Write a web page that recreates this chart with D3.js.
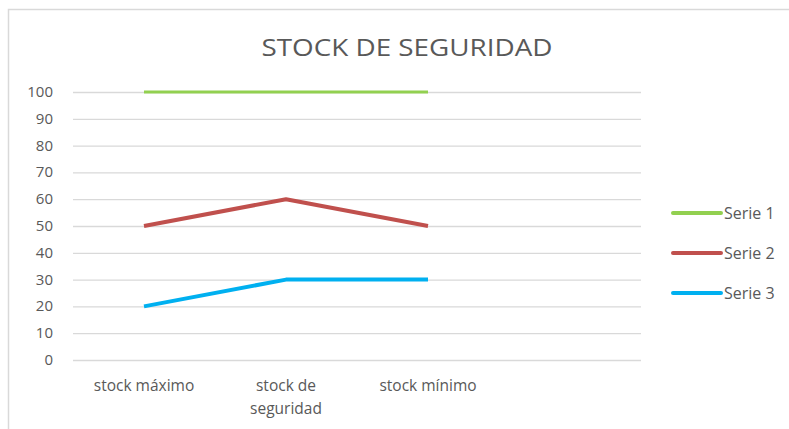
<!DOCTYPE html>
<html>
<head>
<meta charset="utf-8">
<script src="https://cdn.jsdelivr.net/npm/d3@7"></script>
<style>
  body { margin: 0; background: #fff; }
  text { font-family: "Open Sans", "Noto Sans", sans-serif; fill: #595959; }
</style>
</head>
<body>
<div id="chart"></div>
<script>
// categories (4th slot is empty in the original chart)
var categories = ["stock máximo", "stock de\nseguridad", "stock mínimo", ""];
var serie1 = [100, 100, 100];
var serie2 = [50, 60, 50];
var serie3 = [20, 30, 30];
var seriesNames = ["Serie 1", "Serie 2", "Serie 3"];
var seriesColors = ["#92D050", "#C0504D", "#00B0F0"];
var yTicks = [0, 10, 20, 30, 40, 50, 60, 70, 80, 90, 100];

var width = 789, height = 429;
var margin = {top: 92, left: 73, right: 148, bottom: 69};

var svg = d3.select("#chart").append("svg")
    .attr("width", width)
    .attr("height", height);

// chart border
svg.append("rect")
    .attr("x", 8.5).attr("y", 9.5)
    .attr("width", 800).attr("height", 440)
    .attr("fill", "none")
    .attr("stroke", "#d9d9d9")
    .attr("stroke-width", 1.5);

// title
svg.append("text")
    .attr("x", 407).attr("y", 56)
    .attr("text-anchor", "middle")
    .style("font-size", "24px")
    .attr("textLength", 291)
    .attr("lengthAdjust", "spacingAndGlyphs")
    .text("STOCK  DE SEGURIDAD");

var x = d3.scaleBand()
    .domain(d3.range(categories.length))
    .range([margin.left, width - margin.right]);

var y = d3.scaleLinear()
    .domain([0, 100])
    .range([height - margin.bottom, margin.top]);

// gridlines
svg.append("g").selectAll("line").data(yTicks).enter().append("line")
    .attr("x1", margin.left).attr("x2", width - margin.right)
    .attr("y1", function (d) { return y(d) + 0.5; })
    .attr("y2", function (d) { return y(d) + 0.5; })
    .attr("stroke", "#d9d9d9")
    .attr("stroke-width", 1.3);

// y tick labels
svg.append("g").selectAll("text").data(yTicks).enter().append("text")
    .attr("x", 53)
    .attr("y", function (d) { return y(d) + 5; })
    .attr("text-anchor", "end")
    .style("font-size", "15px")
    .text(function (d) { return d; });

// category labels
var catLabels = svg.append("g").selectAll("text").data(categories).enter().append("text")
    .attr("text-anchor", "middle")
    .style("font-size", "15.5px")
    .attr("transform", function (d, i) {
        return "translate(" + (x(i) + x.bandwidth() / 2) + ",391)";
    });
catLabels.each(function (d) {
    var t = d3.select(this);
    d.split("\n").forEach(function (part, k) {
        t.append("tspan").attr("x", 0).attr("dy", k === 0 ? 0 : 23).text(part);
    });
});

// lines
var allSeries = [serie1, serie2, serie3];
var line = d3.line()
    .x(function (d, i) { return x(i) + x.bandwidth() / 2; })
    .y(function (d) { return y(d); });

svg.append("g").selectAll("path").data(allSeries).enter().append("path")
    .attr("d", line)
    .attr("fill", "none")
    .attr("stroke", function (d, i) { return seriesColors[i]; })
    .attr("stroke-width", function (d, i) { return i === 0 ? 3 : 4; })
    .attr("stroke-linejoin", "round");

// legend
var legend = svg.append("g").selectAll("g").data(seriesNames).enter().append("g")
    .attr("transform", function (d, i) { return "translate(673," + (213 + i * 40) + ")"; });
legend.append("line")
    .attr("x1", 0).attr("x2", 48)
    .attr("stroke", function (d, i) { return seriesColors[i]; })
    .attr("stroke-width", 4)
    .attr("stroke-linecap", "round");
legend.append("text")
    .attr("x", 51).attr("y", 6)
    .style("font-size", "16px")
    .text(function (d) { return d; });
</script>
</body>
</html>
